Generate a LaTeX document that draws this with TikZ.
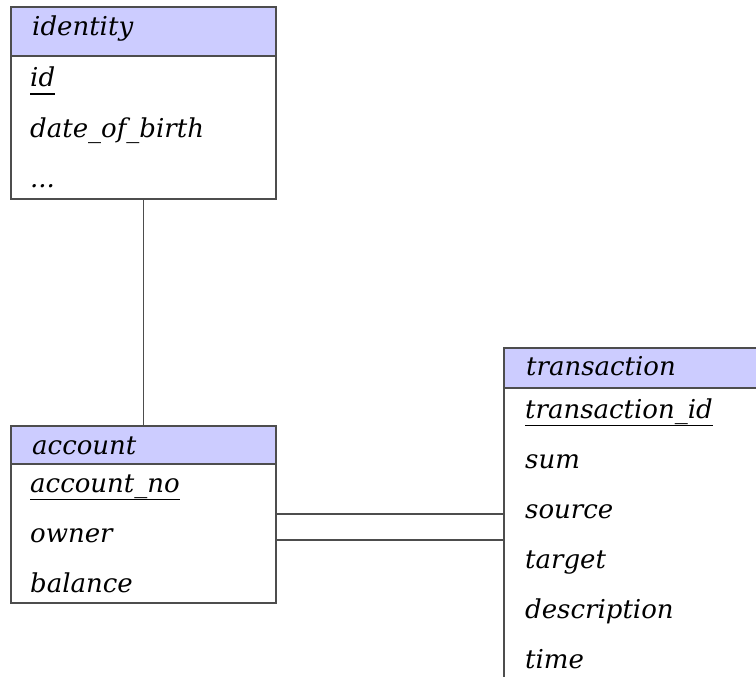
\documentclass[tikz,border=0pt]{standalone}
\usepackage{fontspec}
\setmainfont{DejaVu Serif}
\newcommand\pkey[1]{\setbox0\hbox{#1}\rlap{\rule[-8pt]{\wd0}{1.5pt}}\box0}
\definecolor{headfill}{HTML}{CCCCFF}
\definecolor{edge}{HTML}{4D4D4D}
\tikzset{
  x=1pt, y=-1pt,
  boxpart/.style={draw=edge, line width=1.8pt, rectangle, anchor=north west, inner sep=0pt},
  headpart/.style={boxpart, fill=headfill},
  bodypart/.style={boxpart, fill=white},
  attr/.style={anchor=base west, inner sep=0pt, font=\fontsize{26}{30}\selectfont\itshape},
  link/.style={draw=edge, line width=1.8pt},
}
\begin{document}
\begin{tikzpicture}
\clip (0,0) rectangle (756,677);
\fill[white] (0,0) rectangle (756,677);

% identity entity
\node[headpart, minimum width=265pt, minimum height=49pt] (idhead) at (10,6) {};
\node[bodypart, minimum width=265pt, minimum height=143pt] (idbody) at (10,55) {};
\node[attr] (idname) at (32,36) {identity};
\node[attr] (idkey) at (30,87) {\pkey{id}};
\node[attr] (iddob) at (30,137) {date\_of\_birth};
\node[attr] (idmore) at (30,187) {...};

% account entity
\node[headpart, minimum width=265pt, minimum height=38pt] (acchead) at (10,425) {};
\node[bodypart, minimum width=265pt, minimum height=139pt] (accbody) at (10,463) {};
\node[attr] (accname) at (32,454) {account};
\node[attr] (acckey) at (30,492) {\pkey{account\_no}};
\node[attr] (accowner) at (30,542) {owner};
\node[attr] (accbal) at (30,592) {balance};

% transaction entity
\node[headpart, minimum width=280pt, minimum height=40pt] (trhead) at (503,347) {};
\node[bodypart, minimum width=280pt, minimum height=320pt] (trbody) at (503,387) {};
\node[attr] (trname) at (526,375) {transaction};
\node[attr] (trkey) at (525,418) {\pkey{transaction\_id}};
\node[attr] (trsum) at (525,468) {sum};
\node[attr] (trsrc) at (525,518) {source};
\node[attr] (trtgt) at (525,568) {target};
\node[attr] (trdesc) at (525,618) {description};
\node[attr] (trtime) at (525,668) {time};

% relationships
\coordinate (srcrow) at (0,514);
\coordinate (tgtrow) at (0,540);
\draw[link] (idbody.south) -- (acchead.north);
\draw[link] (accbody.east |- srcrow) -- (trbody.west |- srcrow);
\draw[link] (accbody.east |- tgtrow) -- (trbody.west |- tgtrow);
\end{tikzpicture}
\end{document}
